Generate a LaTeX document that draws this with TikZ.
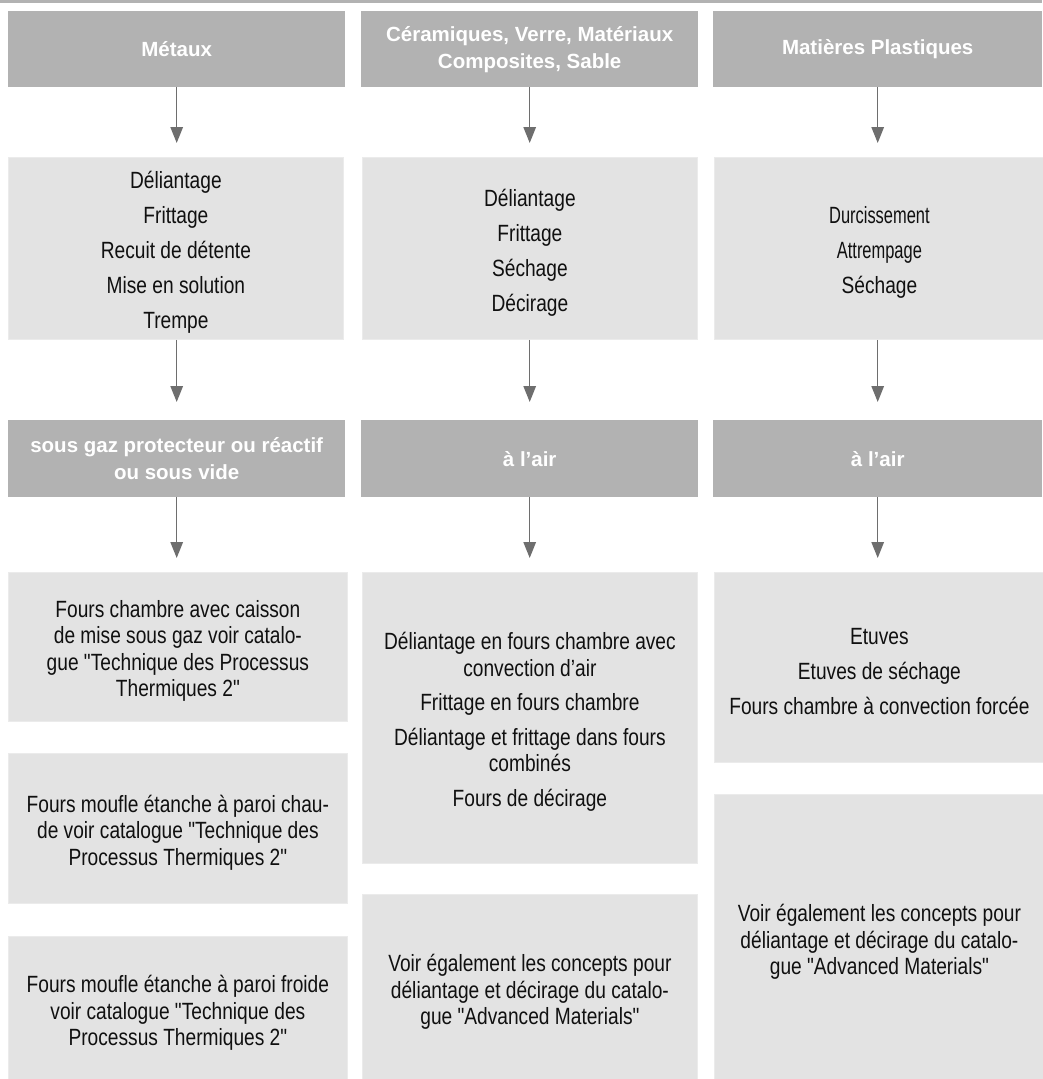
\documentclass[tikz,border=0pt]{standalone}
\usepackage{fontspec}
\usetikzlibrary{arrows.meta}
\newfontfamily\bodyfont{Liberation Sans}[FakeStretch=0.815]
\newfontfamily\narrowfont{Liberation Sans}[FakeStretch=0.70]
\newfontfamily\headfont{Liberation Sans}
\definecolor{hdrgray}{HTML}{B2B2B2}
\definecolor{boxgray}{HTML}{E3E3E3}
\definecolor{boxedge}{HTML}{EBEBEB}
\definecolor{arrgray}{HTML}{6E6E6E}
\definecolor{txt}{HTML}{101010}
\begin{document}
\begin{tikzpicture}[x=1pt,y=-1pt,
  hdr/.style={rectangle, fill=hdrgray, text=white, inner sep=0pt, anchor=north west, align=center,
    font=\headfont\bfseries\fontsize{20.5}{27}\selectfont},
  lbox/.style={rectangle, fill=boxgray, draw=boxedge, line width=0.8pt, inner sep=0pt, anchor=north west},
  ltext/.style={text=txt, inner sep=0pt, align=center, yshift=-4pt,
    font=\bodyfont\fontsize{23.5}{26.5}\selectfont},
  arr/.style={draw=arrgray, line width=1.3pt, -{Triangle[width=12.5pt,length=16pt]}}]
\useasboundingbox (0,0) rectangle (1042,1079);
\fill[hdrgray] (0,0) rectangle (1042,3);

% row 1 headers
\node[hdr, minimum width=337pt, minimum height=76pt] (h1a) at (8,11) {Métaux};
\node[hdr, minimum width=337pt, minimum height=76pt] (h1b) at (361,11) {Céramiques, Verre, Matériaux\\Composites, Sable};
\node[hdr, minimum width=329pt, minimum height=76pt] (h1c) at (713,11) {Matières Plastiques};

% row 2 boxes
\node[lbox, minimum width=335pt, minimum height=182pt] (b2a) at (8,157) {};
\node[ltext] (t2a) at (b2a.center)
  {Déliantage\\[8.5pt]Frittage\\[8.5pt]Recuit de détente\\[8.5pt]Mise en solution\\[8.5pt]Trempe};
\node[lbox, minimum width=335pt, minimum height=182pt] (b2b) at (362,157) {};
\node[ltext] (t2b) at (b2b.center)
  {Déliantage\\[8.5pt]Frittage\\[8.5pt]Séchage\\[8.5pt]Décirage};
\node[lbox, minimum width=330pt, minimum height=182pt] (b2c) at (714,157) {};
\node[ltext] (t2c) at (b2c.center)
  {{\narrowfont Durcissement}\\[8.5pt]{\narrowfont Attrempage}\\[8.5pt]Séchage};

% row 3 headers
\node[hdr, minimum width=337pt, minimum height=77pt] (h3a) at (8,420) {sous gaz protecteur ou réactif\\ou sous vide};
\node[hdr, minimum width=337pt, minimum height=77pt] (h3b) at (361,420) {à l’air};
\node[hdr, minimum width=329pt, minimum height=77pt] (h3c) at (713,420) {à l’air};

% row 4 boxes, column 1
\node[lbox, minimum width=339pt, minimum height=149pt] (b4a) at (8,572) {};
\node[ltext] (t4a) at (b4a.center)
  {Fours chambre avec caisson\\de mise sous gaz voir catalo-\\gue "Technique des Processus\\Thermiques 2"};
\node[lbox, minimum width=339pt, minimum height=150pt] (b4b) at (8,753) {};
\node[ltext] (t4b) at (b4b.center)
  {Fours moufle étanche à paroi chau-\\de voir catalogue "Technique des\\Processus Thermiques 2"};
\node[lbox, minimum width=339pt, minimum height=145pt] (b4c) at (8,936) {};
\node[ltext] (t4c) at (b4c.center)
  {Fours moufle étanche à paroi froide\\voir catalogue "Technique des\\Processus Thermiques 2"};

% row 4 boxes, column 2
\node[lbox, minimum width=335pt, minimum height=291pt] (b4d) at (362,572) {};
\node[ltext] (t4d) at (b4d.center)
  {Déliantage en fours chambre avec\\convection d’air\\[8pt]Frittage en fours chambre\\[8pt]Déliantage et frittage dans fours\\combinés\\[8pt]Fours de décirage};
\node[lbox, minimum width=335pt, minimum height=187pt] (b4e) at (362,894) {};
\node[ltext] (t4e) at (b4e.center)
  {Voir également les concepts pour\\déliantage et décirage du catalo-\\gue "Advanced Materials"};

% row 4 boxes, column 3
\node[lbox, minimum width=330pt, minimum height=190pt] (b4f) at (714,572) {};
\node[ltext] (t4f) at (b4f.center)
  {Etuves\\[8.5pt]Etuves de séchage\\[8.5pt]Fours chambre à convection forcée};
\node[lbox, minimum width=330pt, minimum height=287pt] (b4g) at (714,794) {};
\node[ltext] (t4g) at (b4g.center)
  {Voir également les concepts pour\\déliantage et décirage du catalo-\\gue "Advanced Materials"};

% arrows
\draw[arr, shorten >=14pt] (h1a.south) -- (h1a.south |- b2a.north);
\draw[arr, shorten >=14pt] (h1b.south) -- (h1b.south |- b2b.north);
\draw[arr, shorten >=14pt] (h1c.south) -- (h1c.south |- b2c.north);
\draw[arr, shorten >=18pt] (b2a.south -| h1a.south) -- (h1a.south |- h3a.north);
\draw[arr, shorten >=18pt] (b2b.south -| h1b.south) -- (h1b.south |- h3b.north);
\draw[arr, shorten >=18pt] (b2c.south -| h1c.south) -- (h1c.south |- h3c.north);
\draw[arr, shorten >=14pt] (h3a.south) -- (h3a.south |- b4a.north);
\draw[arr, shorten >=14pt] (h3b.south) -- (h3b.south |- b4d.north);
\draw[arr, shorten >=14pt] (h3c.south) -- (h3c.south |- b4f.north);
\end{tikzpicture}
\end{document}
